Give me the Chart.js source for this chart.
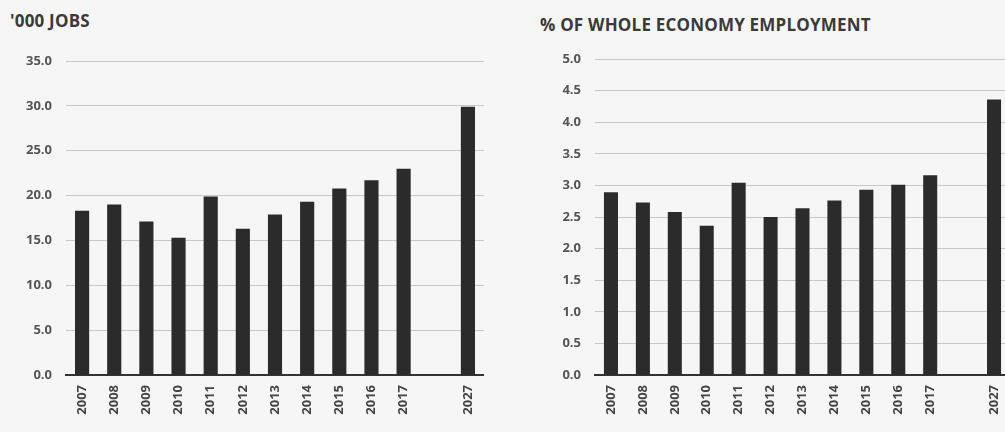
<!DOCTYPE html>
<html>
<head>
<meta charset="utf-8">
<script src="https://cdn.jsdelivr.net/npm/chart.js@4"></script>
<style>
  html, body { margin:0; padding:0; background:#f6f6f6; width:1005px; height:432px; overflow:hidden; }
  .title { position:absolute; font-family:"Open Sans", sans-serif; font-weight:700; color:#3a3a3a; font-size:17px; line-height:20px; white-space:nowrap; letter-spacing:0.2px; }
  .box { position:absolute; top:0; height:432px; }
</style>
</head>
<body>
<div class="title" id="t1" style="left:10px; top:11px;">'000 JOBS</div>
<div class="title" id="t2" style="left:540px; top:15px;">% OF WHOLE ECONOMY EMPLOYMENT</div>
<div class="box" style="left:0px; width:484px;"><canvas id="c1"></canvas></div>
<div class="box" style="left:530px; width:480px;"><canvas id="c2"></canvas></div>
<script>
const categories = ['2007','2008','2009','2010','2011','2012','2013','2014','2015','2016','2017','','2027'];
const jobsThousands = [18.3, 19.0, 17.1, 15.3, 19.9, 16.3, 17.9, 19.3, 20.8, 21.7, 23.0, null, 29.9];
const shareOfEmployment = [2.89, 2.73, 2.58, 2.36, 3.04, 2.50, 2.64, 2.76, 2.93, 3.01, 3.16, null, 4.36];
const jobsTicks = { min: 0, max: 35, step: 5 };
const shareTicks = { min: 0, max: 5, step: 0.5 };

function makeChart(id, values, ticks, axisWidth, padTop, xHeight) {
  return new Chart(document.getElementById(id), {
    type: 'bar',
    data: {
      labels: categories,
      datasets: [{ data: values, backgroundColor: '#2b2b2b', borderWidth: 0,
                   barPercentage: 0.44, categoryPercentage: 1.0 }]
    },
    options: {
      responsive: true, maintainAspectRatio: false, animation: false,
      layout: { padding: { top: padTop, right: 0, bottom: 0, left: 0 } },
      plugins: { legend: { display: false }, tooltip: { enabled: false } },
      scales: {
        x: {
          afterFit: (s) => { s.height = xHeight; s.paddingLeft = 0; s.paddingRight = 0; },
          grid: { display: false, drawTicks: false },
          border: { display: true, color: '#333333', width: 2 },
          ticks: { color: '#444', maxRotation: 90, minRotation: 90, padding: 10, autoSkip: false,
                   font: { family: 'Open Sans', size: 13, weight: 'bold' } }
        },
        y: {
          min: ticks.min, max: ticks.max,
          afterFit: (s) => { s.width = axisWidth; s.paddingTop = 0; s.paddingBottom = 0; },
          grid: { color: '#c8c8c8', lineWidth: 1, drawTicks: false },
          border: { display: false },
          ticks: { stepSize: ticks.step, padding: 14, color: '#555',
                   font: { family: 'Open Sans', size: 13, weight: 'bold' },
                   callback: (v) => Number(v).toFixed(1) }
        }
      }
    }
  });
}
makeChart('c1', jobsThousands, jobsTicks, 66, 61, 57);
makeChart('c2', shareOfEmployment, shareTicks, 65, 59, 57);
</script>
</body>
</html>
